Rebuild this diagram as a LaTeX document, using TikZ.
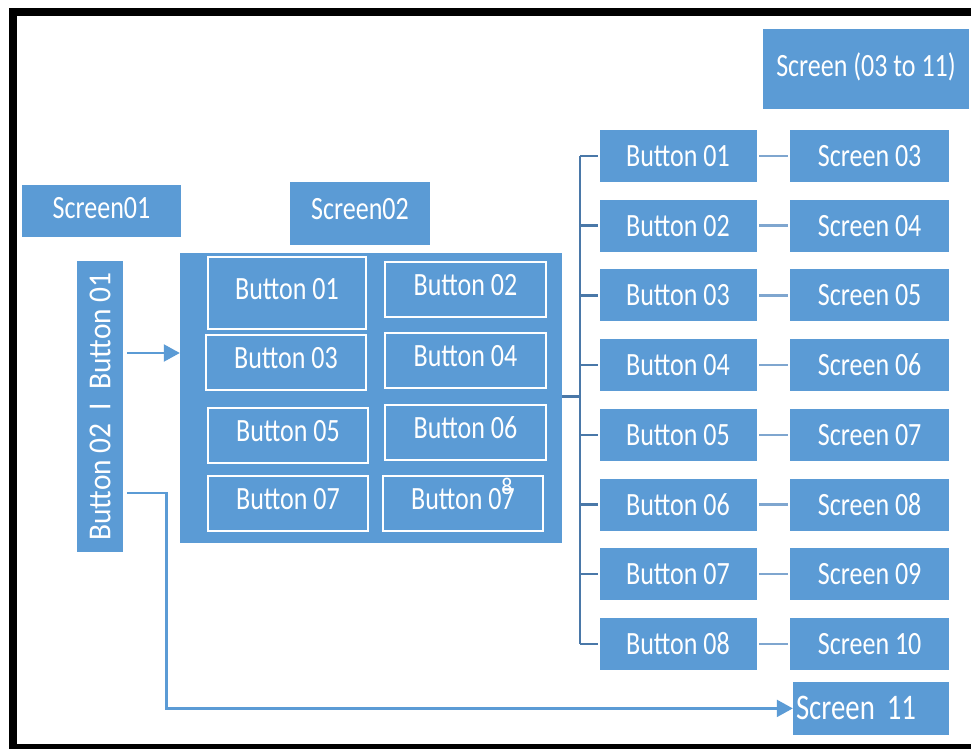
\documentclass[tikz,border=0pt]{standalone}
\usepackage{fontspec}
\setmainfont[FakeStretch=0.8]{Carlito}
\newfontfamily\vfont[FakeStretch=0.92]{Carlito}
\usetikzlibrary{arrows.meta,calc}
\definecolor{boxblue}{HTML}{5B9BD5}
\definecolor{trunkc}{HTML}{4A78A8}
\definecolor{linkc}{HTML}{7FA6CF}
\begin{document}
\begin{tikzpicture}[x=1pt,y=-1pt,
  sz/.style 2 args={minimum width=#1pt, minimum height=#2pt},
  box/.style={fill=boxblue, draw=none, inner sep=0pt, text=white,
    font=\fontsize{32.5}{36}\selectfont},
  inbtn/.style={box, draw=white, line width=2pt, text depth=9pt},
  trunkline/.style={draw=trunkc, line width=2.5pt},
  linkline/.style={draw=linkc, line width=2.5pt, shorten <=2.5pt, shorten >=2.5pt},
  arrowline/.style={draw=boxblue, line width=2.2pt, -{Triangle[length=16pt,width=17pt]}}
]
\useasboundingbox (0,0) rectangle (971,749);
\fill[white] (0,0) rectangle (971,749);
% frame
\fill[black] (9,8) rectangle (971,16);
\fill[black] (9,8) rectangle (17,749);
\fill[black] (9,744) rectangle (971,749);

% left side
\node[box, sz={159}{52}, text depth=6pt] (scr01) at (101.5,211) {Screen01};
\node[box, sz={140}{63}, text depth=9pt] (scr02) at (360,213.5) {Screen02};
\node[box, sz={291}{46}, rotate=90, font=\vfont\fontsize{32}{36}\selectfont] (vbox) at (100,406.5)
  {Button 02\hspace{13pt}I\hspace{13pt}Button 01};

% big box with inner buttons
\node[box, sz={382}{290}] (big) at (371,398) {};
\node[inbtn, sz={158}{72}] (ib1) at (287,293) {Button 01};
\node[inbtn, sz={161}{55}] (ib2) at (465.5,289.5) {Button 02};
\node[inbtn, sz={160}{55}] (ib3) at (286,362.5) {Button 03};
\node[inbtn, sz={161}{55}] (ib4) at (465.5,360.5) {Button 04};
\node[inbtn, sz={160}{55}] (ib5) at (288,435.5) {Button 05};
\node[inbtn, sz={161}{55}] (ib6) at (465.5,432.5) {Button 06};
\node[inbtn, sz={160}{55}] (ib7) at (288,503.5) {Button 07};
\node[inbtn, sz={160}{55}] (ib8) at (463,503.5) {Button 07};
\node[text=white, inner sep=0pt, font=\vfont\fontsize{24}{24}\selectfont] (eight) at (507,486) {8};

% right side
\node[box, sz={206}{80}, text depth=8pt] (scrall) at (866,68.8) {Screen (03 to 11)};
\foreach \i/\y/\s in {1/156/03, 2/225.7/04, 3/295.4/05, 4/365.1/06,
                      5/434.8/07, 6/504.5/08, 7/574.2/09, 8/643.9/10}{
  \node[box, sz={157}{52}] (b\i) at (678,\y) {Button 0\i};
  \node[box, sz={159}{52}] (s\i) at (869.7,\y) {Screen \s};
}
\node[box, sz={156}{53}, inner xsep=3pt, text width=150pt, align=left,
  font=\fontsize{36}{40}\selectfont] (s11) at (871,708.4) {Screen 11};

% trunk connectors
\coordinate (tj) at (580,396.7);
\draw[trunkline] (big.east |- tj) -- (tj);
\draw[trunkline] (tj |- b1.west) -- (tj |- b8.west);
\foreach \i in {1,...,8}{
  \draw[trunkline] (tj |- b\i.west) -- ([xshift=-1.5pt]b\i.west);
  \draw[linkline] (b\i) -- (s\i);
}

% arrows from the vertical box
\coordinate (a1s) at ($(vbox.south)+(4,-53.5)$);
\draw[arrowline] (a1s) -- (big.west |- a1s);
\coordinate (a2s) at ($(vbox.south)+(4,86.8)$);
\coordinate (c2) at (166.5,708.4);
\draw[arrowline] (a2s) -| (c2) -- (s11.west);
\end{tikzpicture}
\end{document}
